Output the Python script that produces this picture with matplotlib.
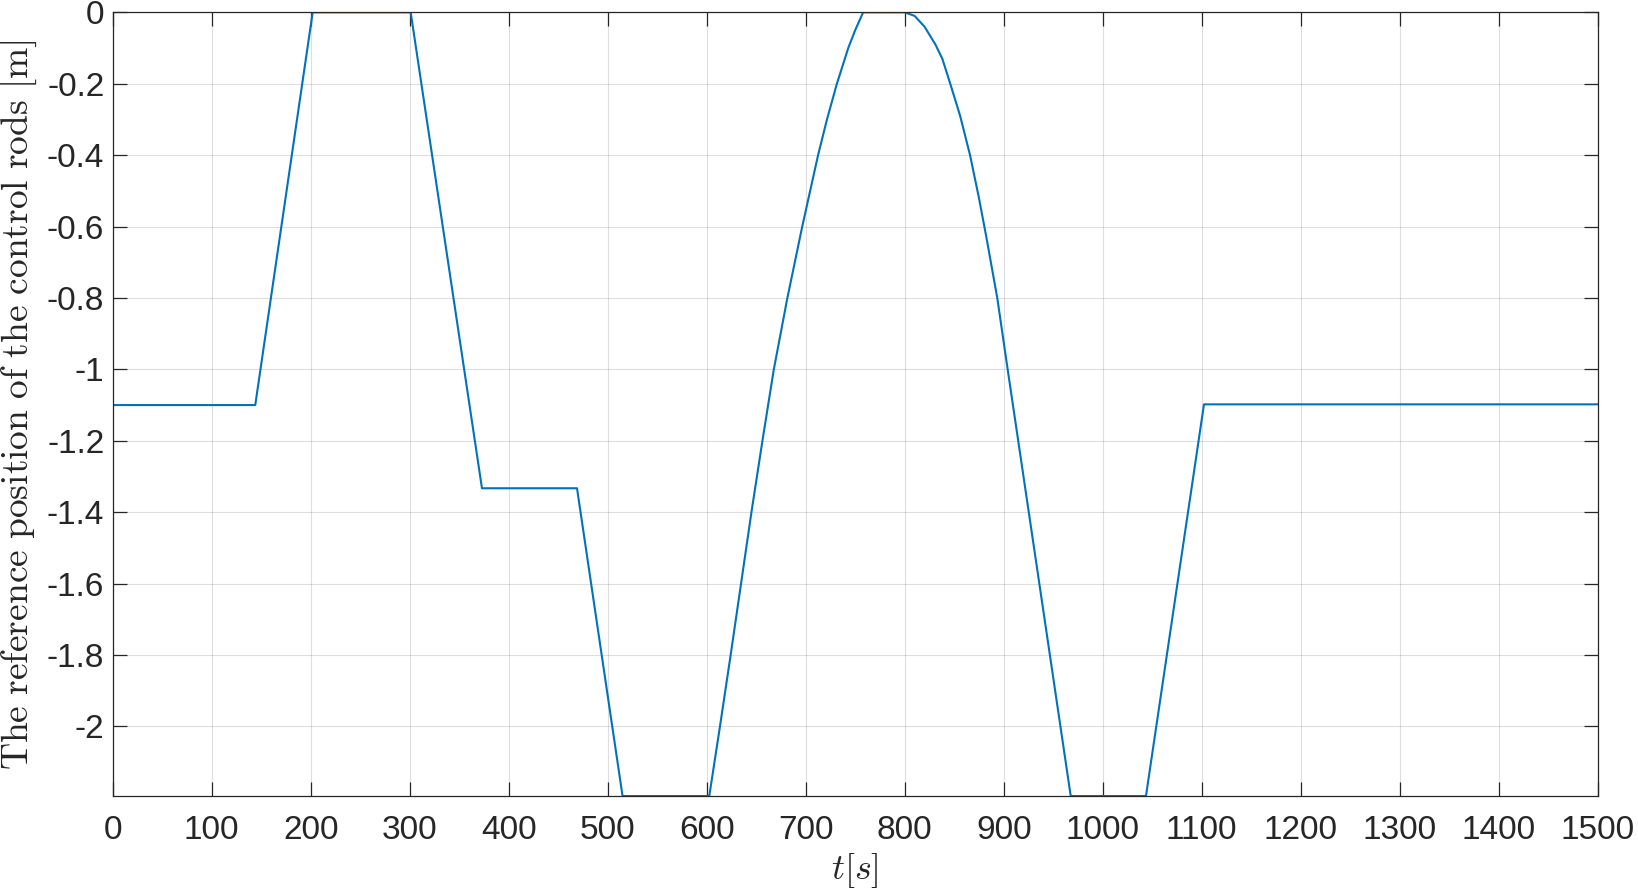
import matplotlib
matplotlib.use('Agg')
import matplotlib.pyplot as plt

# reference rod position
t_ref = [0, 144, 202, 301, 373, 469, 515, 602.6,
         613.4, 624.2, 634.7, 645.2, 656.3, 667.8, 681.5, 696.5, 712.5, 721.5, 731.5, 743, 750, 758,
         800, 810, 820, 831, 838, 846, 856, 866, 875, 882.5, 893.5, 904, 967.7,
         1043.7, 1102.3, 1500]
rod_ref = [-1.1, -1.1, 0, 0, -1.333, -1.333, -2.195, -2.195,
           -2.0, -1.8, -1.6, -1.4, -1.2, -1.0, -0.8, -0.6, -0.4, -0.3, -0.2, -0.1, -0.05, 0,
           0, -0.01, -0.04, -0.09, -0.13, -0.2, -0.29, -0.4, -0.52, -0.63, -0.8, -1.0, -2.195,
           -2.195, -1.098, -1.098]

x_ticks = list(range(0, 1501, 100))
y_ticks = [0, -0.2, -0.4, -0.6, -0.8, -1, -1.2, -1.4, -1.6, -1.8, -2]
y_tick_labels = ['0', '-0.2', '-0.4', '-0.6', '-0.8', '-1', '-1.2', '-1.4', '-1.6', '-1.8', '-2']

plt.rcParams['font.family'] = ['Liberation Sans', 'DejaVu Sans']
plt.rcParams['mathtext.fontset'] = 'cm'

fig = plt.figure(figsize=(16.38, 8.93), dpi=100)
ax = fig.add_axes([0.0688, 0.1086, 0.9066, 0.8776])

ax.plot(t_ref, rod_ref, color='#0072BD', linewidth=1.5)

ax.set_xlim(0, 1500)
ax.set_ylim(-2.195, 0)
ax.set_xticks(x_ticks)
ax.set_yticks(y_ticks)
ax.set_yticklabels(y_tick_labels)

ax.grid(True, color='#262626', alpha=0.15, linewidth=0.8)
ax.tick_params(direction='in', length=10, width=0.9, colors='#262626',
               labelsize=24, top=True, right=True)
ax.tick_params(axis='x', pad=14)
ax.tick_params(axis='y', pad=6)
for s in ax.spines.values():
    s.set_color('#262626')
    s.set_linewidth(0.9)

ax.set_xlabel(r'$t[s]$', fontsize=26, color='#262626', labelpad=3)
ax.set_ylabel(r'$\mathrm{The\ reference\ position\ of\ the\ control\ rods\ [m]}$',
              fontsize=27, color='#262626', labelpad=6)

fig.savefig('out.png', dpi=100)
